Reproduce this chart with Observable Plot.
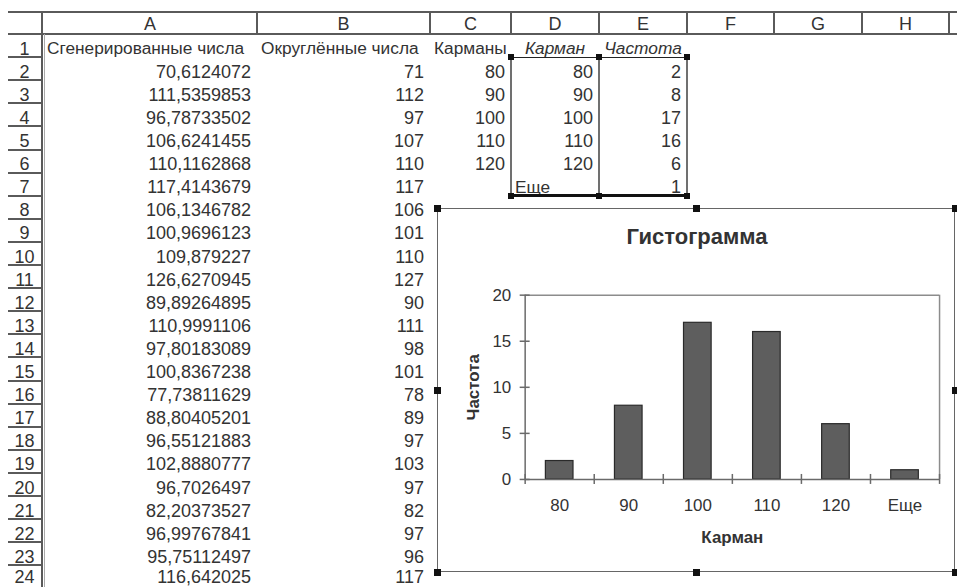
<!DOCTYPE html>
<html>
<head>
<meta charset="utf-8">
<script src="https://cdn.jsdelivr.net/npm/d3@7"></script>
<script src="https://cdn.jsdelivr.net/npm/@observablehq/plot@0.6"></script>
<style>
  body { margin: 0; background: #fff; }
  #sheet { position: relative; width: 957px; height: 587px; overflow: hidden; background: #fff;
           font-family: "Liberation Sans", Arial, sans-serif; color: #333; }
  .c { position: absolute; white-space: nowrap; font-size: 18px; line-height: 18px; height: 18px; box-sizing: border-box; }
  .ln { position: absolute; }
  .hd { position: absolute; background: #111; }
  #chartbox { position: absolute; background: #fff; border: 1px solid #666; box-sizing: border-box; }
  #chartbox svg { position: absolute; left: -1px; top: -1px; }
  #ctitle { position: absolute; font-weight: bold; font-size: 22px; line-height: 22px; text-align: center; white-space: nowrap; color: #333; }
</style>
</head>
<body>
<div id="sheet"></div>
<script>
// ---------------- data ----------------
const columnLetters = ["A", "B", "C", "D", "E", "F", "G", "H"];
const headerRow = ["Сгенерированные числа", "Округлённые числа", "Карманы", "Карман", "Частота"];
const generated = [70.6124072, 111.5359853, 96.78733502, 106.6241455, 110.1162868, 117.4143679,
  106.1346782, 100.9696123, 109.879227, 126.6270945, 89.89264895, 110.9991106, 97.80183089,
  100.8367238, 77.73811629, 88.80405201, 96.55121883, 102.8880777, 96.7026497, 82.20373527,
  96.99767841, 95.75112497, 116.642025];
const rounded = [71, 112, 97, 107, 110, 117, 106, 101, 110, 127, 90, 111, 98, 101, 78, 89, 97, 103, 97, 82, 97, 96, 117];
const pockets = [80, 90, 100, 110, 120];
const bins = ["80", "90", "100", "110", "120", "Еще"];
const frequencies = [2, 8, 17, 16, 6, 1];
const yTicks = [0, 5, 10, 15, 20];
const chartTitle = "Гистограмма";
const xTitle = "Карман";
const yTitle = "Частота";

// ---------------- sheet layout ----------------
const colEdges = [8, 43, 257, 430, 511, 599, 687, 774, 862, 949, 1040];
const HEADER_TOP = 12, HEADER_BOTTOM = 34, ROW_H = 23.1, NROWS = 24;
const BASELINE = 20.6;          // baseline offset of cell text inside a row
const MAX_BASELINE = 583;       // keep the last row's text inside the picture
const sheet = document.getElementById("sheet");

function el(cls, l, t, w, h, css = {}) {
  const d = document.createElement("div");
  d.className = cls;
  Object.assign(d.style, {left: l + "px", top: t + "px", width: w + "px", height: h + "px"}, css);
  sheet.appendChild(d);
  return d;
}
function line(l, t, w, h, color = "#5a5a5a") { return el("ln", l, t, w, h, {background: color}); }
function rowTop(r) { return HEADER_BOTTOM + (r - 1) * ROW_H; }
// div top such that the text baseline sits at the requested y (18px font, 18px line-height)
function textTop(r, size = 18) {
  const baseline = Math.min(rowTop(r) + BASELINE, MAX_BASELINE);
  return baseline - (size * 0.905 - (size * 1.149 - size) / 2);
}
function cell(text, col, row, align = "right", italic = false, size = 18) {
  const l = colEdges[col + 1], r = colEdges[col + 2];
  const d = el("c", l, textTop(row, size), r - l, size, {
    textAlign: align,
    paddingRight: align === "right" ? "6px" : "0",
    paddingLeft: align === "left" ? "4px" : "0",
    fontStyle: italic ? "italic" : "normal",
    fontSize: size + "px",
    lineHeight: size + "px"
  });
  d.textContent = text;
}
const fmt = v => String(v).replace(".", ",");

// header row
line(8, HEADER_TOP - 1, 957 - 8, 2);
line(8, HEADER_BOTTOM - 1, 957 - 8, 2);
for (let i = 2; i < colEdges.length - 1; i++) line(colEdges[i] - 1, HEADER_TOP, 2, HEADER_BOTTOM - HEADER_TOP);
columnLetters.forEach((L, i) => {
  const d = el("c", colEdges[i + 1], HEADER_TOP + 2.5, colEdges[i + 2] - colEdges[i + 1], 18, {textAlign: "center"});
  d.textContent = L;
});
// row header column
line(41, HEADER_TOP, 2, 587 - HEADER_TOP);
line(44, HEADER_BOTTOM, 1, 587 - HEADER_BOTTOM, "#aaa");
for (let r = 1; r <= NROWS; r++) {
  line(8, rowTop(r) + ROW_H - 1, 34, 2);
  const d = el("c", 8, textTop(r), 33, 18, {textAlign: "center"});
  d.textContent = r;
}

// cells
cell(headerRow[0], 0, 1, "left", false, 17.3);
cell(headerRow[1], 1, 1, "left", false, 17.3);
cell(headerRow[2], 2, 1, "left", false, 17.3);
cell(headerRow[3], 3, 1, "center", true, 17.3);
cell(headerRow[4], 4, 1, "center", true, 17.3);
generated.forEach((v, i) => cell(fmt(v), 0, i + 2));
rounded.forEach((v, i) => cell(String(v), 1, i + 2));
pockets.forEach((v, i) => cell(String(v), 2, i + 2));
bins.forEach((b, i) => cell(b, 3, i + 2, i === bins.length - 1 ? "left" : "right", false, i === bins.length - 1 ? 17.3 : 18));
frequencies.forEach((v, i) => cell(String(v), 4, i + 2));

// range-finder outline around D2:E7
{
  const y0 = rowTop(2), y1 = rowTop(2 + bins.length);
  const xs = [colEdges[4], colEdges[5], colEdges[6]];
  xs.forEach(x => line(x - 1, y0, 2, y1 - y0, "#707070"));
  line(xs[0], y0 - 0.5, xs[2] - xs[0], 1.5, "#222");
  line(xs[0], y1 - 1.5, xs[2] - xs[0], 3, "#111");
  xs.forEach(x => { [y0, y1].forEach(y => el("hd", x - 3, y - 3, 6, 6)); });
}

// ---------------- chart ----------------
const BOX = {l: 437, t: 208, w: 518, h: 364};
const box = document.createElement("div");
box.id = "chartbox";
Object.assign(box.style, {left: BOX.l + "px", top: BOX.t + "px", width: BOX.w + "px", height: BOX.h + "px"});
sheet.appendChild(box);

const data = bins.map((b, i) => ({bin: b, i, freq: frequencies[i]}));
const nb = bins.length;
const axisColor = "#6a6a6a";

const chart = Plot.plot({
  width: BOX.w,
  height: BOX.h,
  marginLeft: 88,
  marginRight: 14,
  marginTop: 87,
  marginBottom: 92,
  style: {fontFamily: "Liberation Sans, Arial, sans-serif", fontSize: "17px", color: "#333", background: "transparent", overflow: "visible"},
  x: {type: "linear", domain: [0, nb], axis: null},
  y: {domain: [0, 20], axis: null},
  marks: [
    Plot.ruleY([20], {stroke: "#8c8c8c", strokeWidth: 1.5}),
    Plot.ruleX([nb], {stroke: "#8c8c8c", strokeWidth: 1.5}),
    Plot.rectY(data, {x1: d => d.i + 0.3, x2: d => d.i + 0.7, y: "freq", fill: "#5e5e5e", stroke: "#2a2a2a", strokeWidth: 1.2}),
    Plot.ruleX([0], {stroke: axisColor, strokeWidth: 1.5}),
    Plot.ruleY([0], {stroke: axisColor, strokeWidth: 1.5}),
    Plot.ruleX(d3.range(0, nb + 1), {x: d => d, y1: () => 0, y2: () => 0, insetTop: -5, insetBottom: -5, stroke: axisColor, strokeWidth: 1.5}),
    Plot.ruleY(yTicks, {y: d => d, x1: () => 0, x2: () => 0, insetLeft: -5, insetRight: -5, stroke: axisColor, strokeWidth: 1.5}),
    Plot.axisY({ticks: yTicks, tickSize: 0, tickPadding: 14, label: null}),
    Plot.axisX({ticks: bins.map((_, i) => i + 0.5), tickFormat: t => bins[Math.floor(t)], tickSize: 0, tickPadding: 20, label: null}),
    Plot.text([xTitle], {frameAnchor: "bottom", lineAnchor: "middle", textAnchor: "middle", dy: 58, fontWeight: "bold", fill: "#333"}),
    Plot.text([yTitle], {frameAnchor: "left", lineAnchor: "middle", textAnchor: "middle", dx: -52, rotate: -90, fontWeight: "bold", fill: "#333"})
  ]
});
box.appendChild(chart);

const title = document.createElement("div");
title.id = "ctitle";
title.textContent = chartTitle;
Object.assign(title.style, {left: BOX.l + 1 + "px", width: BOX.w + "px", top: "226px"});
sheet.appendChild(title);

// selection handles of the chart object
{
  const xs = [BOX.l, BOX.l + BOX.w / 2, BOX.l + BOX.w];
  const ys = [BOX.t, BOX.t + BOX.h / 2, BOX.t + BOX.h];
  xs.forEach((x, xi) => ys.forEach((y, yi) => {
    if (xi === 1 && yi === 1) return;
    el("hd", x - 3.5, y - 3.5, 7, 7);
  }));
}
</script>
</body>
</html>
